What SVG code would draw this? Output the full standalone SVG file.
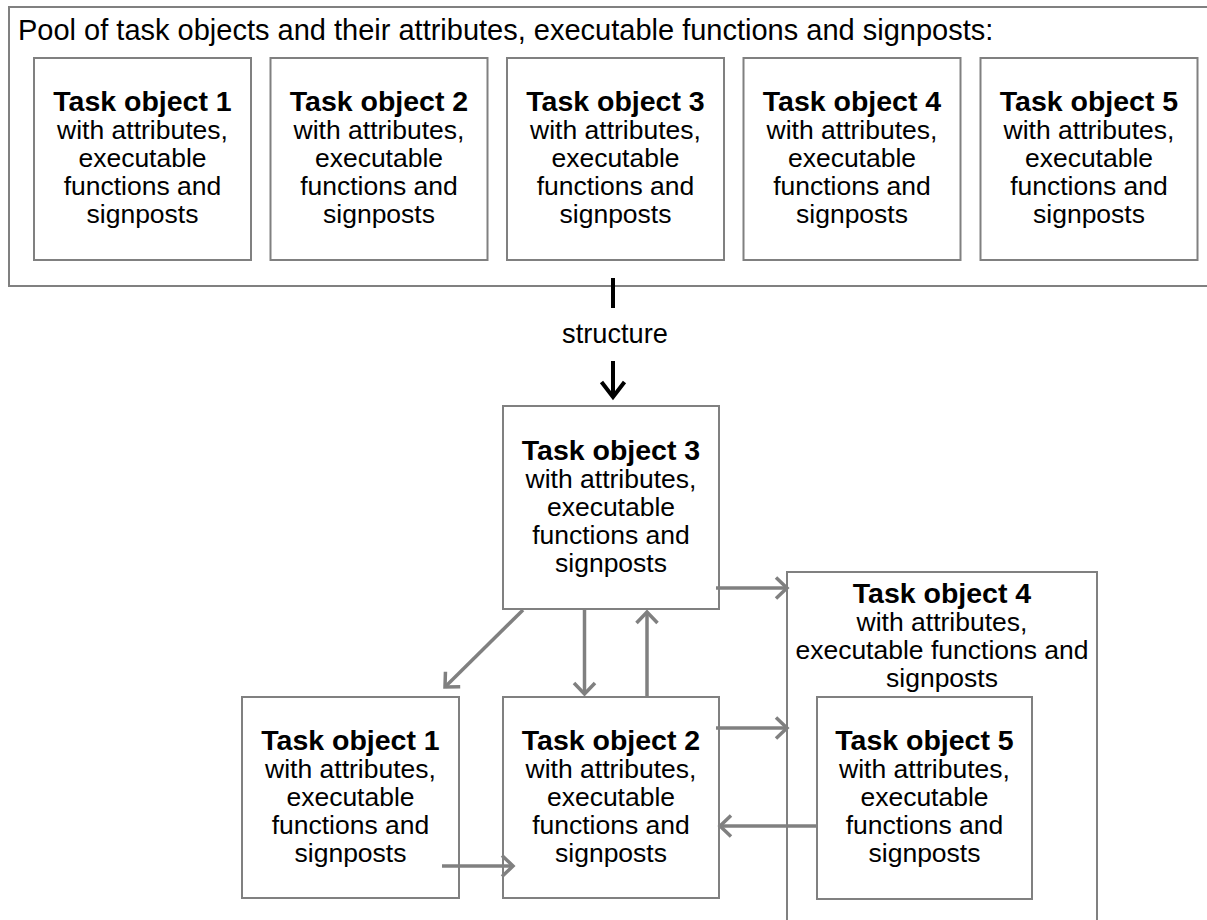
<svg xmlns="http://www.w3.org/2000/svg" width="1207" height="920" viewBox="0 0 1207 920">
<style>
.box{fill:#fff;stroke:#808080;stroke-width:2}
.t{font-family:"Liberation Sans",Arial,sans-serif;font-size:26.5px;fill:#000;text-anchor:middle}
.b{font-weight:bold;font-size:28.5px}
.title{font-family:"Liberation Sans",Arial,sans-serif;font-size:29px;fill:#000}
.s{font-size:27.2px}
.g{fill:none;stroke:#808080;stroke-width:3.5}
.k{fill:none;stroke:#000;stroke-width:4}
</style>
<defs>
<marker id="ag" viewBox="-16 -14 20 28" markerWidth="20" markerHeight="28" refX="0" refY="0" orient="auto" markerUnits="userSpaceOnUse">
<path d="M-11,-10.5 L0,0 L-11,10.5" fill="none" stroke="#808080" stroke-width="3.5"/>
</marker>
<marker id="ak" viewBox="-18 -16 22 32" markerWidth="22" markerHeight="32" refX="0" refY="0" orient="auto" markerUnits="userSpaceOnUse">
<path d="M-15,-11.5 L0,0 L-15,11.5" fill="none" stroke="#000" stroke-width="4"/>
</marker>
</defs>
<g id="pool">
<rect class="box" x="9" y="7" width="1212" height="279"/>
<text class="title" x="18" y="40">Pool of task objects and their attributes, executable functions and signposts:</text>
</g>
<g id="pool-task1">
<rect class="box" x="34" y="58" width="217" height="202"/>
<text class="t" x="142.5" y="111"><tspan class="b">Task object 1</tspan><tspan x="142.5" dy="28">with attributes,</tspan><tspan x="142.5" dy="28">executable</tspan><tspan x="142.5" dy="28">functions and</tspan><tspan x="142.5" dy="28">signposts</tspan></text>
</g>
<g id="pool-task2">
<rect class="box" x="270.5" y="58" width="217" height="202"/>
<text class="t" x="379" y="111"><tspan class="b">Task object 2</tspan><tspan x="379" dy="28">with attributes,</tspan><tspan x="379" dy="28">executable</tspan><tspan x="379" dy="28">functions and</tspan><tspan x="379" dy="28">signposts</tspan></text>
</g>
<g id="pool-task3">
<rect class="box" x="507" y="58" width="217" height="202"/>
<text class="t" x="615.5" y="111"><tspan class="b">Task object 3</tspan><tspan x="615.5" dy="28">with attributes,</tspan><tspan x="615.5" dy="28">executable</tspan><tspan x="615.5" dy="28">functions and</tspan><tspan x="615.5" dy="28">signposts</tspan></text>
</g>
<g id="pool-task4">
<rect class="box" x="743.5" y="58" width="217" height="202"/>
<text class="t" x="852" y="111"><tspan class="b">Task object 4</tspan><tspan x="852" dy="28">with attributes,</tspan><tspan x="852" dy="28">executable</tspan><tspan x="852" dy="28">functions and</tspan><tspan x="852" dy="28">signposts</tspan></text>
</g>
<g id="pool-task5">
<rect class="box" x="980.5" y="58" width="217" height="202"/>
<text class="t" x="1089" y="111"><tspan class="b">Task object 5</tspan><tspan x="1089" dy="28">with attributes,</tspan><tspan x="1089" dy="28">executable</tspan><tspan x="1089" dy="28">functions and</tspan><tspan x="1089" dy="28">signposts</tspan></text>
</g>
<g id="task3">
<rect class="box" x="503" y="406" width="216" height="203"/>
<text class="t" x="611" y="460"><tspan class="b">Task object 3</tspan><tspan x="611" dy="28">with attributes,</tspan><tspan x="611" dy="28">executable</tspan><tspan x="611" dy="28">functions and</tspan><tspan x="611" dy="28">signposts</tspan></text>
</g>
<g id="task1">
<rect class="box" x="242" y="697" width="217" height="201"/>
<text class="t" x="350.5" y="750"><tspan class="b">Task object 1</tspan><tspan x="350.5" dy="28">with attributes,</tspan><tspan x="350.5" dy="28">executable</tspan><tspan x="350.5" dy="28">functions and</tspan><tspan x="350.5" dy="28">signposts</tspan></text>
</g>
<g id="task2">
<rect class="box" x="503" y="697" width="216" height="201"/>
<text class="t" x="611" y="750"><tspan class="b">Task object 2</tspan><tspan x="611" dy="28">with attributes,</tspan><tspan x="611" dy="28">executable</tspan><tspan x="611" dy="28">functions and</tspan><tspan x="611" dy="28">signposts</tspan></text>
</g>
<g id="task4">
<rect class="box" x="787" y="572" width="310" height="360"/>
<text class="t" x="942" y="603"><tspan class="b">Task object 4</tspan><tspan x="942" dy="28">with attributes,</tspan><tspan x="942" dy="28">executable functions and</tspan><tspan x="942" dy="28">signposts</tspan></text>
</g>
<g id="task5">
<rect class="box" x="817" y="697" width="215" height="202"/>
<text class="t" x="924.5" y="750"><tspan class="b">Task object 5</tspan><tspan x="924.5" dy="28">with attributes,</tspan><tspan x="924.5" dy="28">executable</tspan><tspan x="924.5" dy="28">functions and</tspan><tspan x="924.5" dy="28">signposts</tspan></text>
</g>
<g id="connectors">
<path class="k" d="M613,278 V308"/>
<text class="t s" x="615" y="343">structure</text>
<path class="k" d="M613,361 V397" marker-end="url(#ak)"/>
<path class="g" d="M716,588 H787" marker-end="url(#ag)"/>
<path class="g" d="M716,728 H787" marker-end="url(#ag)"/>
<path class="g" d="M817,826 H720" marker-end="url(#ag)"/>
<path class="g" d="M442,866 H513" marker-end="url(#ag)"/>
<path class="g" d="M584.5,609 V694" marker-end="url(#ag)"/>
<path class="g" d="M647,697 V612" marker-end="url(#ag)"/>
<path class="g" d="M523,610 L445,687" marker-end="url(#ag)"/>
</g>
</svg>
